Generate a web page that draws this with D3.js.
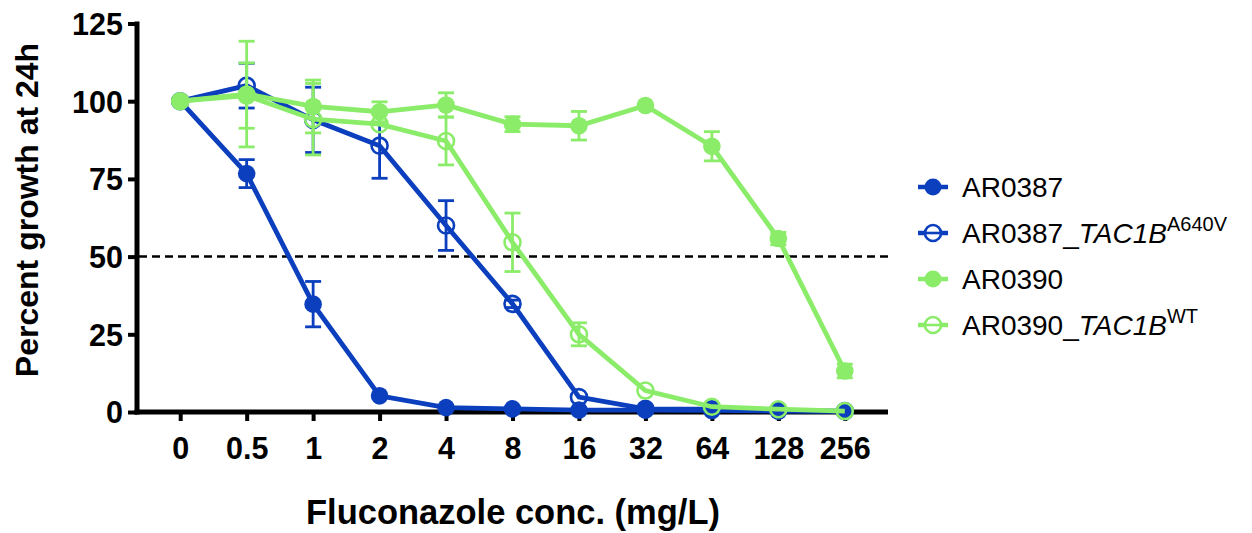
<!DOCTYPE html>
<html>
<head>
<meta charset="utf-8">
<script src="https://cdn.jsdelivr.net/npm/d3@7"></script>
<style>
body { margin: 0; background: #fff; }
text { font-family: "Liberation Sans", Arial, sans-serif; }
</style>
</head>
<body>
<script>
var concs = ["0", "0.5", "1", "2", "4", "8", "16", "32", "64", "128", "256"];
var yTicks = [0, 25, 50, 75, 100, 125];

// mean and sd per concentration
var ar0387     = [100, 76.7, 34.7, 5.2, 1.4, 1.0, 0.6, 0.6, 0.5, 0.3, 0.2];
var ar0387Err  = [0, 4.5, 7.3, 0, 0, 0, 0, 0, 0, 0, 0];
var ar0387t    = [100, 105, 94, 85.7, 60, 34.8, 4.8, 1.0, 0.9, 0.5, 0.3];
var ar0387tErr = [0, 7.2, 10.5, 10.5, 8, 1.2, 0, 0, 0, 0, 0];
var ar0390     = [100, 102.3, 98.3, 96.6, 98.8, 92.6, 92.1, 98.6, 85.5, 55.8, 13.2];
var ar0390Err  = [0, 17, 8.5, 3.2, 3.9, 2.4, 4.6, 0, 4.7, 2, 2.2];
var ar0390t    = [100, 101.8, 94.2, 92.6, 87.2, 54.6, 25, 6.9, 1.7, 0.9, 0.3];
var ar0390tErr = [0, 10.5, 11.5, 0, 7.7, 9.4, 3.7, 0, 0, 0, 0];

var blue = "#0b3fbd", green = "#8bec69";

var series = [
  { name: "AR0387", vals: ar0387, err: ar0387Err, color: blue, open: false },
  { name: "AR0387_", sup: "A640V", vals: ar0387t, err: ar0387tErr, color: blue, open: true },
  { name: "AR0390", vals: ar0390, err: ar0390Err, color: green, open: false },
  { name: "AR0390_", sup: "WT", vals: ar0390t, err: ar0390tErr, color: green, open: true }
];

var W = 1252, H = 533;
var plotL = 137, plotR = 888, plotT = 23.5, plotB = 412;

var svg = d3.select("body").append("svg")
  .attr("width", W).attr("height", H);

var x = d3.scalePoint().domain(concs).range([plotL, plotR]).padding(0.65);
var y = d3.scaleLinear().domain([0, 125]).range([plotB, plotT]);

// axes
var yAxis = svg.append("g")
  .attr("transform", "translate(" + plotL + ",0)")
  .call(d3.axisLeft(y).tickValues(yTicks).tickSize(9).tickPadding(5));
var xAxis = svg.append("g")
  .attr("transform", "translate(0," + plotB + ")")
  .call(d3.axisBottom(x).tickSize(9).tickPadding(16));

[yAxis, xAxis].forEach(function(g) {
  g.select(".domain").attr("stroke-width", 5).attr("stroke", "#000");
  g.selectAll(".tick line").attr("stroke-width", 4).attr("stroke", "#000");
  g.selectAll(".tick text")
    .attr("font-size", 30.5).attr("font-weight", "bold").attr("fill", "#000");
});
yAxis.selectAll(".tick text").attr("dy", "0.36em");
yAxis.select(".domain").attr("d", "M0," + (plotT - 2) + "V" + (plotB + 2.5));
xAxis.select(".domain").attr("d", "M" + (plotL - 2.5) + ",0H" + plotR);

// 50% reference line
svg.append("line")
  .attr("x1", plotL + 2).attr("x2", plotR)
  .attr("y1", y(50)).attr("y2", y(50))
  .attr("stroke", "#000").attr("stroke-width", 2.5)
  .attr("stroke-dasharray", "8,5");

var line = d3.line()
  .x(function(d, i) { return x(concs[i]); })
  .y(function(d) { return y(d); });

series.forEach(function(s) {
  var g = svg.append("g");
  // error bars
  s.vals.forEach(function(v, i) {
    if (!s.err[i]) return;
    var cx = x(concs[i]);
    var eb = g.append("g").attr("stroke", s.color).attr("stroke-width", 2.8);
    eb.append("line").attr("x1", cx).attr("x2", cx)
      .attr("y1", y(v + s.err[i])).attr("y2", y(v - s.err[i]));
    eb.append("line").attr("x1", cx - 8).attr("x2", cx + 8)
      .attr("y1", y(v + s.err[i])).attr("y2", y(v + s.err[i]));
    eb.append("line").attr("x1", cx - 8).attr("x2", cx + 8)
      .attr("y1", y(v - s.err[i])).attr("y2", y(v - s.err[i]));
  });
  g.append("path")
    .attr("d", line(s.vals))
    .attr("fill", "none").attr("stroke", s.color).attr("stroke-width", 4.8);
  g.selectAll("circle").data(s.vals).enter().append("circle")
    .attr("cx", function(d, i) { return x(concs[i]); })
    .attr("cy", function(d) { return y(d); })
    .attr("r", s.open ? 8 : 8.8)
    .attr("fill", s.open ? "none" : s.color)
    .attr("stroke", s.color)
    .attr("stroke-width", s.open ? 2.6 : 0);
});

// axis titles
svg.append("text")
  .attr("transform", "translate(38,210) rotate(-90)")
  .attr("text-anchor", "middle")
  .attr("font-size", 32).attr("font-weight", "bold")
  .text("Percent growth at 24h");
svg.append("text")
  .attr("x", 513).attr("y", 524)
  .attr("text-anchor", "middle")
  .attr("font-size", 34.5).attr("font-weight", "bold")
  .text("Fluconazole conc. (mg/L)");

// legend
var legend = svg.append("g");
series.forEach(function(s, i) {
  var ly = 187 + i * 46;
  var lg = legend.append("g");
  lg.append("line").attr("x1", 918).attr("x2", 948).attr("y1", ly).attr("y2", ly)
    .attr("stroke", s.color).attr("stroke-width", 4.5);
  lg.append("circle").attr("cx", 933).attr("cy", ly)
    .attr("r", s.open ? 8 : 8.5)
    .attr("fill", s.open ? "#fff" : s.color)
    .attr("stroke", s.color).attr("stroke-width", s.open ? 2.6 : 0);
  if (s.open) {
    lg.append("line").attr("x1", 925).attr("x2", 941).attr("y1", ly).attr("y2", ly)
      .attr("stroke", s.color).attr("stroke-width", 2.6);
  }
  var t = lg.append("text").attr("x", 962).attr("y", ly + 10).attr("font-size", 28);
  t.append("tspan").text(s.name);
  if (s.sup) {
    t.append("tspan").attr("font-style", "italic").text("TAC1B");
    t.append("tspan").attr("font-size", 20).attr("dy", -12).text(s.sup);
  }
});
</script>
</body>
</html>
